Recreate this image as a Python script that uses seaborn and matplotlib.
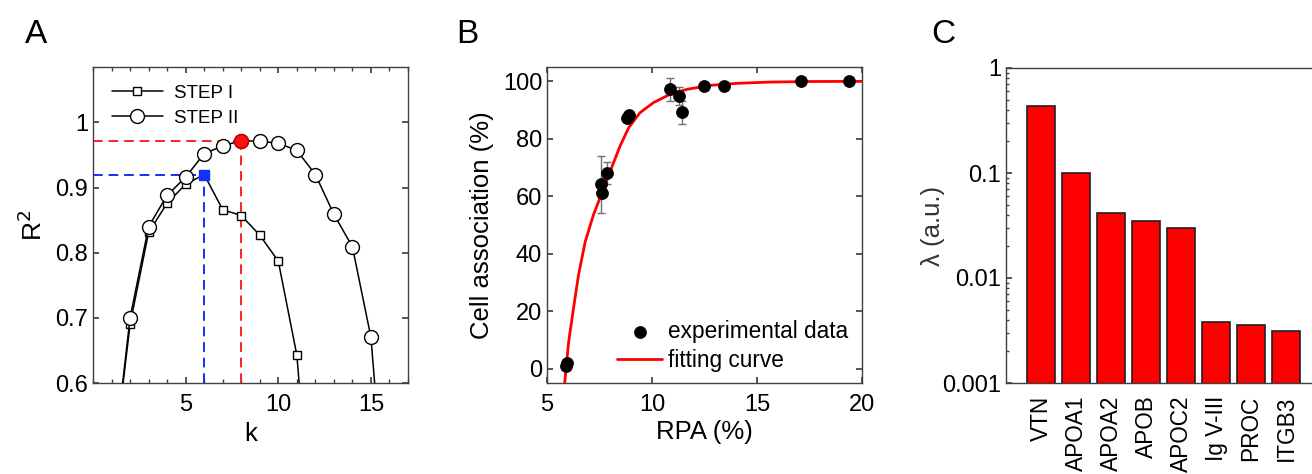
import numpy as np
import pandas as pd
import matplotlib
matplotlib.use("Agg")
import matplotlib.pyplot as plt
from matplotlib.ticker import MultipleLocator, FixedLocator, FixedFormatter, LogLocator, NullFormatter
import seaborn as sns

# ---------------- data ----------------
# panel A : R^2 vs k
k_step1 = [1, 2, 3, 4, 5, 6, 7, 8, 9, 10, 11, 12]
r2_step1 = [0.45, 0.69, 0.831, 0.876, 0.905, 0.92, 0.866, 0.857, 0.827, 0.787, 0.643, 0.30]
k_step2 = [1, 2, 3, 4, 5, 6, 7, 8, 9, 10, 11, 12, 13, 14, 15, 16]
r2_step2 = [0.45, 0.70, 0.84, 0.888, 0.916, 0.952, 0.964, 0.972, 0.971, 0.968,
            0.957, 0.92, 0.859, 0.809, 0.670, 0.32]
best_k1, best_r1 = 6, 0.92
best_k2, best_r2 = 8, 0.972

# panel B : cell association vs RPA
rpa = [5.90, 5.95, 7.58, 7.62, 7.85, 8.80, 8.91, 10.84, 11.29, 11.42, 12.48, 13.44, 17.1, 19.38]
assoc = [0.8, 2.0, 64.1, 61.1, 68.1, 87.3, 88.2, 97.2, 94.9, 89.3, 98.3, 98.3, 100.0, 100.0]
assoc_err = [0, 0, 10.0, 0, 4.0, 0, 0, 4.1, 3.0, 4.0, 0, 0, 0, 0]
fit_x = [5.84, 6.03, 6.26, 6.50, 6.82, 7.21, 7.61, 8.01, 8.48, 8.90, 9.43, 10.07,
         10.86, 11.65, 12.76, 14.0, 15.6, 17.5, 20.0]
fit_y = [-5.2, 9.3, 20.9, 32.6, 44.2, 53.5, 61.1, 68.7, 77.5, 84.0, 89.1, 92.6,
         95.5, 97.2, 98.6, 99.3, 99.75, 99.95, 100.0]

# panel C : lambda per protein
proteins = ["VTN", "APOA1", "APOA2", "APOB", "APOC2", "Ig V-III", "PROC", "ITGB3"]
lam = [0.43, 0.10, 0.0416, 0.0346, 0.030, 0.0038, 0.00354, 0.00315]
lam_ticks = [0.001, 0.01, 0.1, 1]
lam_ticklabels = ["0.001", "0.01", "0.1", "1"]

# ---------------- style ----------------
sns.set_theme(style="ticks")
plt.rcParams["font.family"] = ["Liberation Sans", "DejaVu Sans"]
plt.rcParams["font.size"] = 17
plt.rcParams["text.color"] = "black"
plt.rcParams["axes.labelcolor"] = "black"
plt.rcParams["xtick.labelcolor"] = "black"
plt.rcParams["ytick.labelcolor"] = "black"
plt.rcParams["axes.edgecolor"] = "#404040"
plt.rcParams["axes.linewidth"] = 1.0
plt.rcParams["xtick.direction"] = "in"
plt.rcParams["ytick.direction"] = "in"
plt.rcParams["xtick.labelsize"] = 17
plt.rcParams["ytick.labelsize"] = 17
plt.rcParams["axes.labelsize"] = 18.5

W, H = 1312, 474
fig = plt.figure(figsize=(W / 100, H / 100), dpi=100)


def box(l, b, r, t):
    return [l / W, (H - b) / H, (r - l) / W, (b - t) / H]


axA = fig.add_axes(box(93, 383, 408, 67))
axB = fig.add_axes(box(547, 383, 862, 67))
axC = fig.add_axes(box(1006, 383, 1321, 68))

# ---------------- A ----------------
dfA1 = pd.DataFrame({"k": k_step1, "R2": r2_step1})
dfA2 = pd.DataFrame({"k": k_step2, "R2": r2_step2})

dash = (0, (5, 3))
axA.plot([0, best_k2], [best_r2, best_r2], ls=dash, color="#ff2020", lw=1.4, zorder=1)
axA.plot([best_k2, best_k2], [0.6, best_r2], ls=dash, color="#ff2020", lw=1.4, zorder=1)
axA.plot([0, best_k1], [best_r1, best_r1], ls=dash, color="#1030ff", lw=1.4, zorder=1)
axA.plot([best_k1, best_k1], [0.6, best_r1], ls=dash, color="#1030ff", lw=1.4, zorder=1)

sns.lineplot(data=dfA1, x="k", y="R2", ax=axA, color="black", lw=1.1, marker="s",
             markersize=5.5, markerfacecolor="white", markeredgecolor="black",
             markeredgewidth=1.0, label="STEP I", sort=False, zorder=3)
sns.lineplot(data=dfA2, x="k", y="R2", ax=axA, color="black", lw=1.1, marker="o",
             markersize=10, markerfacecolor="white", markeredgecolor="black",
             markeredgewidth=1.0, label="STEP II", sort=False, zorder=3)
axA.plot([best_k1], [best_r1], marker="s", ms=7, color="#1030ff", mec="#1030ff", zorder=5)
axA.plot([best_k2], [best_r2], marker="o", ms=10, color="#ff1010", mec="#c00000", zorder=5)

axA.set_xlim(0, 17)
axA.set_ylim(0.6, 1.085)
axA.xaxis.set_major_locator(FixedLocator([5, 10, 15]))
axA.xaxis.set_minor_locator(MultipleLocator(1))
axA.yaxis.set_major_locator(FixedLocator([0.6, 0.7, 0.8, 0.9, 1.0]))
axA.set_yticklabels(["0.6", "0.7", "0.8", "0.9", "1"])
axA.tick_params(which="both", top=True, right=True, length=4, color="#404040")
axA.tick_params(which="minor", length=3)
axA.tick_params(axis="x", pad=8)
axA.set_xlabel("k", labelpad=4)
axA.set_ylabel("R$^2$", labelpad=6, fontsize=19)
axA.legend(loc="upper left", frameon=False, fontsize=13.5, handlelength=2.75,
           borderaxespad=0, labelspacing=0.42, handletextpad=0.56,
           bbox_to_anchor=(0.035, 0.968))

# ---------------- B ----------------
dfB = pd.DataFrame({"RPA": rpa, "assoc": assoc, "err": assoc_err})
dfFit = pd.DataFrame({"x": fit_x, "y": fit_y})
has_err = dfB[dfB["err"] > 0]
axB.errorbar(has_err["RPA"], has_err["assoc"], yerr=has_err["err"], fmt="none",
             ecolor="#707070", elinewidth=1.0, capsize=3, capthick=1.0, zorder=2)
sns.lineplot(data=dfFit, x="x", y="y", ax=axB, color="#ff0000", lw=2.0,
             sort=False, label="fitting curve", zorder=3)
sns.scatterplot(data=dfB, x="RPA", y="assoc", ax=axB, color="black", s=75,
                edgecolor="black", linewidth=0.5, label="experimental data", zorder=4)
axB.set_xlim(5, 20)
axB.set_ylim(-5, 105)
axB.xaxis.set_major_locator(FixedLocator([5, 10, 15, 20]))
axB.yaxis.set_major_locator(FixedLocator([0, 20, 40, 60, 80, 100]))
axB.tick_params(which="both", top=True, right=True, length=4, color="#404040")
axB.tick_params(axis="x", pad=8)
axB.set_xlabel("RPA (%)", labelpad=3)
axB.set_ylabel("Cell association (%)", labelpad=6)
handles, labels = axB.get_legend_handles_labels()
order = [labels.index("experimental data"), labels.index("fitting curve")]
axB.legend([handles[i] for i in order], [labels[i] for i in order],
           loc="lower left", bbox_to_anchor=(0.194, 0.006), borderaxespad=0,
           frameon=False, fontsize=16.3, handlelength=2.0,
           labelspacing=0.25, handletextpad=0.25)

# ---------------- C ----------------
dfC = pd.DataFrame({"protein": proteins, "lam": lam})
axC.set_yscale("log")
sns.barplot(data=dfC, x="protein", y="lam", ax=axC, color="#ff0000", saturation=1,
            width=0.82, edgecolor="#202020", linewidth=1.2, log_scale=False)
axC.set_xlim(-1, 8)
axC.set_ylim(0.001, 1)
axC.yaxis.set_major_locator(FixedLocator(lam_ticks))
axC.yaxis.set_major_formatter(FixedFormatter(lam_ticklabels))
axC.yaxis.set_minor_locator(LogLocator(base=10, subs=np.arange(2, 10), numticks=20))
axC.yaxis.set_minor_formatter(NullFormatter())
axC.tick_params(axis="y", which="major", length=4, color="#404040")
axC.tick_params(axis="y", which="minor", length=2.5, color="#404040")
axC.tick_params(axis="x", length=0, pad=9, labelrotation=90, labelsize=16.3)
axC.set_xlabel("")
axC.set_ylabel("λ (a.u.)", color="#333333")
axC.yaxis.set_label_coords(-0.194, 0.5)

# panel letters
fig.text(25 / W, 1 - 43 / H, "A", fontsize=24, ha="left", va="baseline")
fig.text(456 / W, 1 - 43 / H, "B", fontsize=24, ha="left", va="baseline")
fig.text(931 / W, 1 - 43 / H, "C", fontsize=24, ha="left", va="baseline")

fig.savefig("out.png", dpi=100)
